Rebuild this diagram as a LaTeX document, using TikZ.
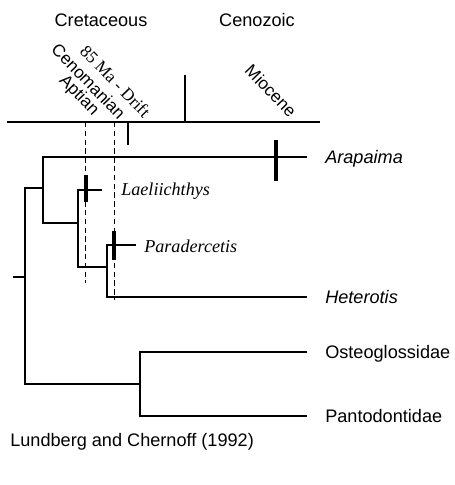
\documentclass[tikz,border=0pt]{standalone}
\usepackage{fontspec}
\setmainfont{Liberation Sans}
\newfontfamily\timesfont{Liberation Serif}
\usepackage{tikz}
\usetikzlibrary{arrows.meta}

\tikzset{
  branch/.style={line width=1.7pt,line join=miter},
  axisline/.style={line width=0.9pt},
  agebar/.style={line width=3.2pt},
  ageline/.style={line width=0.7pt,dash pattern=on 4pt off 2.6pt},
  epoch/.style={rotate=-46,anchor=south east,inner sep=0pt,font=\fontsize{12.9}{14}\selectfont},
  era/.style={inner sep=0pt,font=\fontsize{13.6}{16}\selectfont},
  taxon/.style={anchor=base west,inner sep=0pt,font=\fontsize{13.6}{16}\selectfont},
}

\begin{document}
\begin{tikzpicture}[x=0.75pt,y=-0.75pt]
\useasboundingbox (0,0) rectangle (454,485);
% time scale
\node[era] (cret) at (101,20) {Cretaceous};
\node[era] (ceno) at (257,20) {Cenozoic};
\draw[axisline](7,122)--(320,122);
\draw[axisline](185,75)--(185,122)
(128,122)--(128,145);
\node[epoch] (apt) at (90,119) {Aptian};
\node[epoch] (cen) at (118,121) {Cenomanian};
\node[epoch,font=\timesfont\fontsize{12.9}{14}\selectfont] (drift) at (143,119) {85 Ma - Drift};
\node[epoch] (mio) at (289,119) {Miocene};
\draw[ageline](85,122)--(85,283);
\draw[ageline](114,122)--(114,300);
% tree
\coordinate (tA) at (307,157);
\coordinate (tL) at (102,190);
\coordinate (tP) at (136,245);
\coordinate (tH) at (307,297);
\coordinate (tO) at (307,352);
\coordinate (tPa) at (307,416);
\coordinate (c0) at (25,277);
\coordinate (c1) at (43,188);
\coordinate (c2) at (78,223);
\coordinate (c3) at (107,267);
\coordinate (c4) at (140,384);
\coordinate (stub) at (13,277);
\draw[branch](tA)-|(c1)|-(c2);
\draw[branch](tL)-|(c2)|-(c3);
\draw[branch](tP)-|(c3)|-(tH);
\draw[branch](tO)-|(c4)|-(tPa);
\draw[branch](c1)-|(c0)|-(c4);
\draw[branch](stub)--(c0);
% age bars
\draw[agebar](276,140)--(276,181)
(86,175)--(86,202)
(114,231)--(114,260);
% taxa
\node[taxon] (ara) at (325,163) {\itshape Arapaima};
\node[taxon] (lae) at (121,195) {\timesfont\itshape Laeliichthys};
\node[taxon] (par) at (144,252) {\timesfont\itshape Paradercetis};
\node[taxon] (het) at (325,303) {\itshape Heterotis};
\node[taxon] (ost) at (325,358) {Osteoglossidae};
\node[taxon] (pan) at (325,422) {Pantodontidae};
\node[taxon] (src) at (10,446) {Lundberg and Chernoff (1992)};
\end{tikzpicture}
\end{document}
